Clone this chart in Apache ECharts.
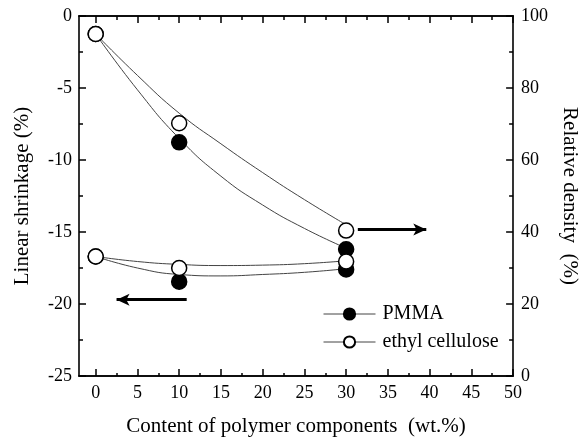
<!DOCTYPE html>
<html>
<head>
<meta charset="utf-8">
<script src="https://cdn.jsdelivr.net/npm/echarts@6/dist/echarts.min.js"></script>
<style>
  html, body { margin: 0; padding: 0; background: #fff; }
  #main { width: 588px; height: 446px; }
</style>
</head>
<body>
<div id="main"></div>
<script>
// measured points (x = wt.% polymer)
var xPts = [0, 10, 30];
var pmmaShrink = [-16.7, -18.45, -17.6];
var ecShrink = [-16.7, -17.5, -17.05];
var pmmaDensity = [95, 64.9, 35.2];
var ecDensity = [95, 70.2, 40.4];

// fitted curves
var fitX = [0, 5, 10, 15, 20, 25, 30];
var pmmaShrinkFit = [-16.7, -17.5, -17.95, -18.05, -17.95, -17.8, -17.55];
var ecShrinkFit = [-16.7, -17.05, -17.25, -17.33, -17.3, -17.2, -17.0];
var pmmaDensityFit = [95, 79.5, 66, 55.5, 47.5, 41, 35.5];
var ecDensityFit = [95, 83.5, 73, 64.5, 56.5, 49, 42];

// arrows pointing at the axis each group belongs to
var arrowLeft = [[10.9, -19.7], [2.5, -19.7]];
var arrowRight = [[31.4, 40.7], [39.6, 40.7]];

var majorX = [0, 5, 10, 15, 20, 25, 30, 35, 40, 45, 50];
var minorX = [2.5, 7.5, 12.5, 17.5, 22.5, 27.5, 32.5, 37.5, 42.5, 47.5];

var FONT = 'Liberation Serif';

function pairs(xs, ys) {
    return xs.map(function (x, i) { return [x, ys[i]]; });
}

var chart = echarts.init(document.getElementById('main'), null, { renderer: 'canvas' });

var axisLine = { show: true, onZero: false, lineStyle: { color: '#000', width: 1.6 } };

function xAx(pos, ticks, len, labels) {
    return {
        type: 'value', position: pos, min: -2, max: 50,
        axisLine: axisLine,
        splitLine: { show: false },
        axisTick: { inside: true, length: len, customValues: ticks, lineStyle: { color: '#000', width: 1.5 } },
        axisLabel: labels ? {
            show: true, customValues: majorX, margin: 8,
            fontFamily: FONT, fontSize: 18, color: '#000'
        } : { show: false }
    };
}

var xAxes = [
    xAx('bottom', majorX, 7, true),
    xAx('bottom', minorX, 3, false),
    xAx('top', majorX, 7, false),
    xAx('top', minorX, 4, false)
];
xAxes[0].name = 'Content of polymer components  (wt.%)';
xAxes[0].nameLocation = 'middle';
xAxes[0].nameGap = 40;
xAxes[0].nameTextStyle = { fontFamily: FONT, fontSize: 21, color: '#000' };

var fitStyle = { color: '#444', width: 1 };

function fitSeries(xs, ys, yIdx) {
    return {
        type: 'line', yAxisIndex: yIdx, data: pairs(xs, ys),
        smooth: 0.5, showSymbol: false, symbol: 'none',
        lineStyle: fitStyle, z: 2, silent: true
    };
}

function markSeries(name, ys, yIdx, filled) {
    return {
        name: name, type: 'line', yAxisIndex: yIdx, data: pairs(xPts, ys),
        symbol: 'circle', symbolSize: 15, showSymbol: true,
        lineStyle: { opacity: 0 },
        itemStyle: { color: filled ? '#000' : '#fff', borderColor: '#000', borderWidth: 1.5 },
        z: filled ? 4 : 5, silent: true
    };
}

function arrowSeries(pts, yIdx) {
    return {
        type: 'line', yAxisIndex: yIdx, data: [], silent: true,
        markLine: {
            silent: true, animation: false,
            symbol: ['none', 'arrow'], symbolSize: [9, 13],
            label: { show: false },
            lineStyle: { color: '#000', width: 3, type: 'solid' },
            data: [[{ coord: pts[0] }, { coord: pts[1] }]]
        }
    };
}

var option = {
    animation: false,
    backgroundColor: '#fff',
    grid: { left: 79, right: 69, top: 16, bottom: 70 },
    legend: {
        orient: 'vertical', left: 318, top: 299,
        itemWidth: 52, itemHeight: 14, itemGap: 8,
        data: ['PMMA', 'ethyl cellulose'],
        lineStyle: { color: '#444', width: 1, opacity: 1 },
        textStyle: { fontFamily: FONT, fontSize: 20, color: '#000', padding: [0, 0, 0, 2] },
        selectedMode: false
    },
    xAxis: xAxes,
    yAxis: [{
        type: 'value', position: 'left', min: -25, max: 0, interval: 5,
        name: 'Linear shrinkage (%)', nameLocation: 'middle', nameGap: 46,
        nameTextStyle: { fontFamily: FONT, fontSize: 21, color: '#000' },
        axisLine: axisLine, splitLine: { show: false },
        axisTick: { inside: true, length: 7, lineStyle: { color: '#000', width: 1.5 } },
        minorTick: { show: true, splitNumber: 2, length: 4, lineStyle: { color: '#000', width: 1.5 } },
        axisLabel: { margin: 7, fontFamily: FONT, fontSize: 18, color: '#000' }
    }, {
        type: 'value', position: 'right', min: 0, max: 100, interval: 20,
        name: 'Relative density  (%)', nameLocation: 'middle', nameGap: 40, nameRotate: -90,
        nameTextStyle: { fontFamily: FONT, fontSize: 21, color: '#000' },
        axisLine: axisLine, splitLine: { show: false },
        axisTick: { inside: true, length: 7, lineStyle: { color: '#000', width: 1.5 } },
        minorTick: { show: true, splitNumber: 2, length: 4, lineStyle: { color: '#000', width: 1.5 } },
        axisLabel: { margin: 8, fontFamily: FONT, fontSize: 18, color: '#000' }
    }],
    series: [
        fitSeries(fitX, pmmaShrinkFit, 0),
        fitSeries(fitX, ecShrinkFit, 0),
        fitSeries(fitX, pmmaDensityFit, 1),
        fitSeries(fitX, ecDensityFit, 1),
        markSeries('PMMA', pmmaShrink, 0, true),
        markSeries('PMMA', pmmaDensity, 1, true),
        markSeries('ethyl cellulose', ecShrink, 0, false),
        markSeries('ethyl cellulose', ecDensity, 1, false),
        arrowSeries(arrowLeft, 0),
        arrowSeries(arrowRight, 1)
    ]
};

chart.setOption(option);
</script>
</body>
</html>
